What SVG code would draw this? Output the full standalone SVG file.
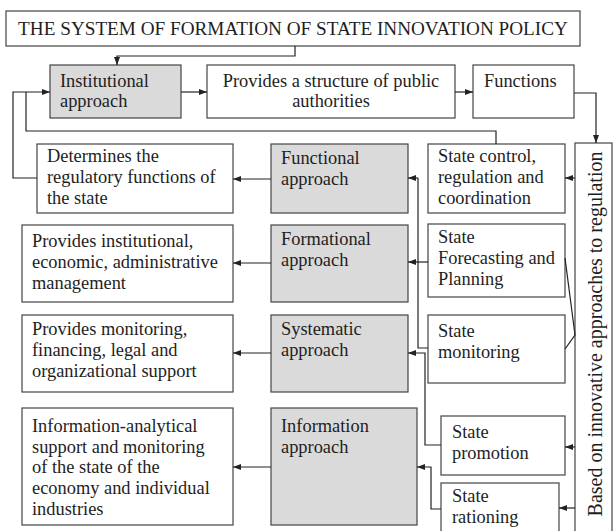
<svg xmlns="http://www.w3.org/2000/svg" width="614" height="531" viewBox="0 0 614 531">
<defs>
<marker id="ah" markerWidth="8" markerHeight="6" refX="8" refY="3" orient="auto" markerUnits="userSpaceOnUse">
<path d="M0,0 L8,3 L0,6 Z" fill="#222"/>
</marker>
<style>
.box{fill:#fff;stroke:#444;stroke-width:1.2}
.g{fill:#dadada;stroke:#444;stroke-width:1.2}
text{font-family:"Liberation Serif","Times New Roman",serif;font-size:18.4px;fill:#1e1e1e}
.t{font-size:19.2px}
.v{font-size:20px}
.c{fill:none;stroke:#222;stroke-width:1.2}
.a{fill:none;stroke:#222;stroke-width:1.2;marker-end:url(#ah)}
</style>
</defs>
<rect width="614" height="531" fill="#fff"/>

<g id="title">
<rect class="box" x="6" y="11" width="574" height="35"/>
<text class="t" x="293" y="35" text-anchor="middle">THE SYSTEM OF FORMATION OF STATE INNOVATION POLICY</text>
</g>

<g id="institutional">
<rect class="g" x="50" y="65" width="131" height="53"/>
<text x="60" y="87">Institutional</text>
<text x="60" y="107">approach</text>
</g>
<g id="structure">
<rect class="box" x="207" y="65" width="248" height="53"/>
<text x="331" y="87" text-anchor="middle">Provides a structure of public</text>
<text x="331" y="107" text-anchor="middle">authorities</text>
</g>
<g id="functions">
<rect class="box" x="473" y="65" width="101" height="53"/>
<text x="484" y="87">Functions</text>
</g>

<g id="based">
<rect class="box" x="575" y="143" width="37" height="400"/>
<text class="v" transform="translate(602,334) rotate(-90)" text-anchor="middle">Based on innovative approaches to regulation</text>
</g>

<g id="determines">
<rect class="box" x="37" y="144" width="196" height="69"/>
<text x="47" y="162">Determines the</text>
<text x="47" y="183">regulatory functions of</text>
<text x="47" y="204">the state</text>
</g>
<g id="functional">
<rect class="g" x="271" y="144" width="137" height="69"/>
<text x="281" y="164">Functional</text>
<text x="281" y="185">approach</text>
</g>
<g id="control">
<rect class="box" x="428" y="144" width="137" height="69"/>
<text x="438" y="162">State control,</text>
<text x="438" y="183">regulation and</text>
<text x="438" y="204">coordination</text>
</g>

<g id="inst-econ">
<rect class="box" x="22" y="225" width="211" height="77"/>
<text x="32" y="247">Provides institutional,</text>
<text x="32" y="268">economic, administrative</text>
<text x="32" y="289">management</text>
</g>
<g id="formational">
<rect class="g" x="271" y="225" width="137" height="77"/>
<text x="281" y="245">Formational</text>
<text x="281" y="266">approach</text>
</g>
<g id="forecasting">
<rect class="box" x="428" y="224" width="137" height="73"/>
<text x="438" y="243">State</text>
<text x="438" y="264">Forecasting and</text>
<text x="438" y="285">Planning</text>
</g>

<g id="monitoring-support">
<rect class="box" x="22" y="315" width="211" height="77"/>
<text x="32" y="335">Provides monitoring,</text>
<text x="32" y="356">financing, legal and</text>
<text x="32" y="377">organizational support</text>
</g>
<g id="systematic">
<rect class="g" x="271" y="315" width="137" height="77"/>
<text x="281" y="335">Systematic</text>
<text x="281" y="356">approach</text>
</g>
<g id="state-monitoring">
<rect class="box" x="428" y="315" width="137" height="68"/>
<text x="438" y="337">State</text>
<text x="438" y="358">monitoring</text>
</g>

<g id="info-support">
<rect class="box" x="22" y="408" width="211" height="117"/>
<text x="32" y="432">Information-analytical</text>
<text x="32" y="453">support and monitoring</text>
<text x="32" y="473">of the state of the</text>
<text x="32" y="494">economy and individual</text>
<text x="32" y="515">industries</text>
</g>
<g id="information">
<rect class="g" x="271" y="408" width="146" height="117"/>
<text x="281" y="432">Information</text>
<text x="281" y="453">approach</text>
</g>
<g id="promotion">
<rect class="box" x="441" y="416" width="124" height="59"/>
<text x="452" y="438">State</text>
<text x="452" y="459">promotion</text>
</g>
<g id="rationing">
<rect class="box" x="441" y="483" width="118" height="60"/>
<text x="452" y="502">State</text>
<text x="452" y="523">rationing</text>
</g>

<g id="connectors">
<polyline class="a" points="295,46 295,56 117,56 117,65"/>
<line class="a" x1="181" y1="92" x2="207" y2="92"/>
<line class="a" x1="455" y1="92" x2="473" y2="92"/>
<polyline class="a" points="574,93 596,93 596,143"/>
<polyline class="a" points="37,178 13,178 13,92 50,92"/>
<polyline class="c" points="26,92 26,131 496,131 496,144"/>
<line class="a" x1="575" y1="178" x2="565" y2="178"/>
<line class="a" x1="271" y1="179" x2="233" y2="179"/>
<line class="a" x1="271" y1="263" x2="233" y2="263"/>
<line class="a" x1="271" y1="353" x2="233" y2="353"/>
<line class="a" x1="271" y1="467" x2="233" y2="467"/>
<polyline class="c" points="428,348 418,348 418,178"/>
<line class="a" x1="418" y1="178" x2="408" y2="178"/>
<line class="c" x1="428" y1="262" x2="418" y2="262"/>
<line class="a" x1="418" y1="262" x2="408" y2="262"/>
<polyline class="a" points="441,445 425,445 425,353 408,353"/>
<polyline class="a" points="441,509 431,509 431,467 417,467"/>
<line class="a" x1="575" y1="447" x2="565" y2="447"/>
<line class="a" x1="575" y1="508" x2="559" y2="508"/>
<polyline class="c" points="565,258 575,335 565,349"/>
</g>
</svg>
